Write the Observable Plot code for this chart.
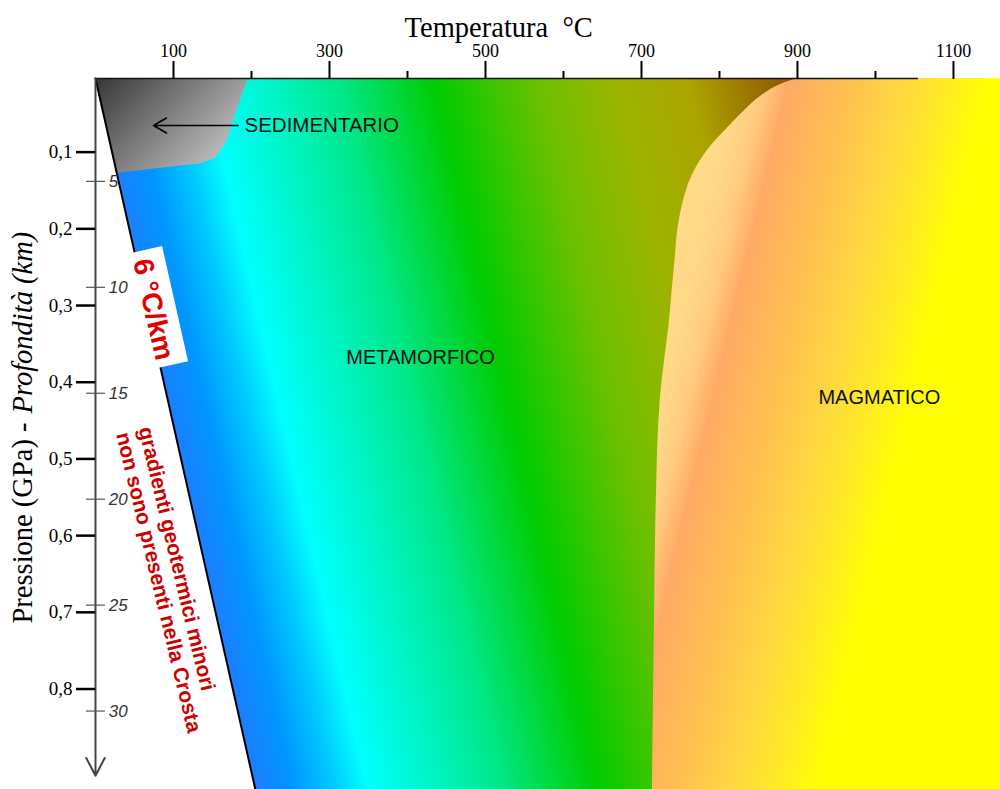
<!DOCTYPE html>
<html>
<head>
<meta charset="utf-8">
<script src="https://cdn.jsdelivr.net/npm/d3@7"></script>
<script src="https://cdn.jsdelivr.net/npm/@observablehq/plot@0.6"></script>
<style>
  html, body { margin: 0; padding: 0; background: #fff; }
  #chart svg { display: block; }
</style>
</head>
<body>
<div id="chart"></div>
<script>
// ---------- data ----------
const tempTicksMajor = [100, 300, 500, 700, 900, 1100];
const tempTicksMinor = [200, 400, 600, 800, 1000];
const pressureTicks = [0.1, 0.2, 0.3, 0.4, 0.5, 0.6, 0.7, 0.8];
const depthTicksKm = [5, 10, 15, 20, 25, 30];
const kmPerGPa = 36.2;

// 6 °C/km geotherm (temperature °C vs pressure GPa)
const geotherm = [
  {T: 0, P: 0},
  {T: 205, P: 0.931}
];

// boundary of the magmatic field
const magmaBoundary = [
  {T: 900, P: 0},
  {T: 878, P: 0.012},
  {T: 853, P: 0.027},
  {T: 830, P: 0.048},
  {T: 808, P: 0.071},
  {T: 789, P: 0.092},
  {T: 775, P: 0.112},
  {T: 763, P: 0.135},
  {T: 754, P: 0.163},
  {T: 747, P: 0.198},
  {T: 743, P: 0.241},
  {T: 739, P: 0.284},
  {T: 735, P: 0.329},
  {T: 730, P: 0.368},
  {T: 724, P: 0.424},
  {T: 719, P: 0.554},
  {T: 717, P: 0.685},
  {T: 714, P: 0.931}
];

// lower edge of the sedimentary field
const sediment = [
  {T: 0, P: 0},
  {T: 28, P: 0.128},
  {T: 83, P: 0.121},
  {T: 135, P: 0.115},
  {T: 154, P: 0.108},
  {T: 169, P: 0.085},
  {T: 179, P: 0.052},
  {T: 196, P: 0}
];

// colour stops (temperature along the top edge, colour)
const metaStops = [
  [0, "#1a80ff"], [45, "#0096ff"], [96, "#00c8ff"], [140, "#00ffff"],
  [222, "#00f5c8"], [308, "#00e88c"], [436, "#00cc00"], [566, "#6cc000"],
  [668, "#9cb400"], [760, "#aca400"], [838, "#9a7400"], [897, "#8a5600"]
];
const magmaStops = [
  [827, "#ffd888"], [859, "#ffcc80"], [891, "#ffaa64"], [968, "#ffc050"],
  [1038, "#ffd840"], [1103, "#ffee20"], [1147, "#ffff00"]
];
const sedStops = [[0, "#363636"], [1, "#c0c0c0"]];

const labels = {
  xTitle: "Temperatura\u00a0 °C",
  yTitleA: "Pressione (GPa) -",
  yTitleB: "Profondità (km)",
  sed: "SEDIMENTARIO",
  meta: "METAMORFICO",
  magma: "MAGMATICO",
  gradient: "6 °C/km",
  note: "gradienti geotermici minori\nnon sono presenti nella Crosta"
};

// ---------- scales ----------
const TMAX = 1160.3;
const PMIN = 0.004, PMAX = 0.931;
const serif = "'Liberation Serif', 'DejaVu Serif', serif";
const sans = "'Liberation Sans', Arial, sans-serif";
const svgNS = "http://www.w3.org/2000/svg";

function gradientDefs(index, scales) {
  const defs = document.createElementNS(svgNS, "defs");
  const x0 = scales.x(0), y0 = scales.y(PMIN);
  const W = scales.x(TMAX) - x0;
  function linear(id, k, stops) {
    const g = document.createElementNS(svgNS, "linearGradient");
    g.setAttribute("id", id);
    g.setAttribute("gradientUnits", "userSpaceOnUse");
    const L = W / (1 + k * k);
    g.setAttribute("x1", x0); g.setAttribute("y1", y0);
    g.setAttribute("x2", x0 + L); g.setAttribute("y2", y0 + k * L);
    for (const [T, c] of stops) {
      const s = document.createElementNS(svgNS, "stop");
      s.setAttribute("offset", Math.max(0, Math.min(1, (scales.x(T) - x0) / W)));
      s.setAttribute("stop-color", c);
      g.appendChild(s);
    }
    defs.appendChild(g);
  }
  linear("metaGrad", -0.23, metaStops);
  linear("magmaGrad", 0.24, magmaStops);
  const sg = document.createElementNS(svgNS, "linearGradient");
  sg.setAttribute("id", "sedGrad");
  sg.setAttribute("x1", 0); sg.setAttribute("y1", 0);
  sg.setAttribute("x2", 1); sg.setAttribute("y2", 0.6);
  for (const [o, c] of sedStops) {
    const s = document.createElementNS(svgNS, "stop");
    s.setAttribute("offset", o);
    s.setAttribute("stop-color", c);
    sg.appendChild(s);
  }
  defs.appendChild(sg);
  return defs;
}

const chart = Plot.plot({
  width: 1000,
  height: 789,
  marginTop: 78,
  marginLeft: 95,
  marginRight: 0,
  marginBottom: 0,
  style: {fontFamily: serif, background: "white", overflow: "visible", color: "black"},
  x: {domain: [0, TMAX], range: [95, 1000], axis: null, label: null},
  y: {domain: [PMIN, PMAX], range: [78, 789], clamp: true, axis: null, label: null},
  marks: [
    gradientDefs,
    // fields
    Plot.areaX(geotherm, {y: "P", x1: "T", x2: TMAX, fill: "url(#metaGrad)"}),
    Plot.areaX(magmaBoundary, {y: "P", x1: "T", x2: TMAX, fill: "url(#magmaGrad)", curve: "monotone-y"}),
    Plot.areaY(sediment, {x: "T", y1: 0, y2: "P", fill: "url(#sedGrad)"}),
    // geotherm line
    Plot.line(geotherm, {x: "T", y: "P", stroke: "black", strokeWidth: 2}),
    // top axis
    Plot.ruleY([0], {x1: 0, x2: 1055, stroke: "#111", strokeWidth: 1.5}),
    Plot.axisX({ticks: tempTicksMajor, anchor: "top", tickSize: 18, tickPadding: 4, label: null,
      fontSize: 18, fontFamily: serif, strokeWidth: 2, tickFormat: d => String(d)}),
    Plot.axisX({ticks: tempTicksMinor, anchor: "top", tickSize: 8, strokeWidth: 2, label: null,
      tickFormat: () => ""}),
    Plot.text([labels.xTitle], {x: 517, frameAnchor: "top", dy: -62, text: d => d,
      fontSize: 28.5, fontFamily: serif, fill: "black"}),
    // left axis
    Plot.arrow([0], {x1: 0, x2: 0, y1: 0, y2: 0.913, stroke: "#444", strokeWidth: 2,
      headLength: 15, headAngle: 55}),
    Plot.axisY({ticks: pressureTicks, anchor: "left", tickSize: 19, tickPadding: 4, label: null,
      fontSize: 19, fontFamily: serif, strokeWidth: 2.5,
      tickFormat: d => d.toFixed(1).replace(".", ",")}),
    Plot.ruleY(depthTicksKm, {y: d => d / kmPerGPa, x1: -11.5, x2: 12.8, stroke: "#555", strokeWidth: 1.2}),
    Plot.text(depthTicksKm, {y: d => d / kmPerGPa, x: 17, text: d => String(d), textAnchor: "start",
      fontStyle: "italic", fontSize: 17, fontFamily: sans, fill: "#333"}),
    Plot.text([labels.yTitleA], {x: -93.6, y: 0.4525, text: d => d, rotate: -90, textAnchor: "end",
      fontSize: 28.5, fontFamily: serif, fill: "black"}),
    Plot.text([labels.yTitleB], {x: -93.6, y: 0.4408, text: d => d, rotate: -90, textAnchor: "start",
      fontSize: 28.5, fontFamily: serif, fontStyle: "italic", fill: "black"}),
    // sedimentary label + arrow
    Plot.arrow([0], {x1: 183, x2: 74.4, y1: 0.0653, y2: 0.0653, stroke: "black", strokeWidth: 1.6,
      headLength: 14, headAngle: 60}),
    Plot.text([labels.sed], {x: 191, y: 0.0653, text: d => d, textAnchor: "start",
      fontSize: 20.5, fontFamily: sans, fill: "#111"}),
    Plot.text([labels.meta], {x: 416.7, y: 0.3678, text: d => d,
      fontSize: 20, fontFamily: sans, fill: "#111"}),
    Plot.text([labels.magma], {x: 1005, y: 0.420, text: d => d,
      fontSize: 20, fontFamily: sans, fill: "#111"}),
    // gradient label in white box
    Plot.line([{T: 62.8, P: 0.2275}, {T: 96.2, P: 0.3777}], {x: "T", y: "P", stroke: "white",
      strokeWidth: 36, strokeLinecap: "butt"}),
    Plot.text([labels.gradient], {x: 74, y: 0.305, text: d => d, rotate: 77,
      fontSize: 28, fontWeight: "bold", fontFamily: sans, fill: "#e00000"}),
    Plot.text([labels.note], {x: 50, y: 0.462, text: d => d, rotate: 76.5, textAnchor: "start",
      lineHeight: 1.1, fontSize: 21, fontWeight: "bold", fontFamily: sans, fill: "#cc0000"})
  ]
});
document.getElementById("chart").appendChild(chart);
</script>
</body>
</html>
